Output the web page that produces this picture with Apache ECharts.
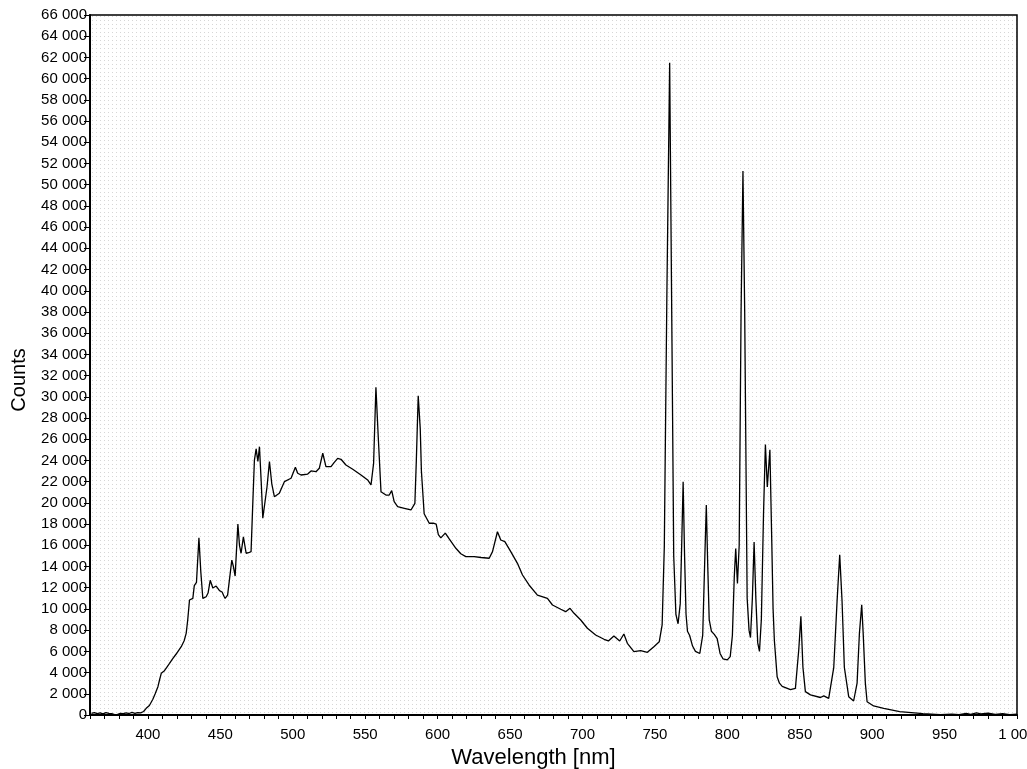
<!DOCTYPE html>
<html>
<head>
    <meta charset="utf-8">
    <title>Spectrum</title>
</head>
<style>
    body {
        margin: 0;
        background: #fff;
    }

    #spectrum {
        width: 1027px;
        height: 769px;
    }
</style>
<body>
<div id="spectrum"></div>

<script type="text/javascript" src="https://cdn.jsdelivr.net/npm/echarts@6.0.0/dist/echarts.min.js"></script>
<script type="text/javascript">

    // wavelength (nm)
    var wavelength = [
        361, 363, 365, 367, 369, 371, 373, 375, 377, 379, 381, 383, 385, 387, 389, 391, 393, 395, 397, 398.8,
        401, 403.4, 405, 406.9, 408, 409.2, 411.4, 413, 414.9, 417, 419.5, 421, 423, 425, 426.4, 427.5, 428.7,
        431, 432, 432.6, 433.5, 435.2, 436.5, 437.9, 440.2, 441.5, 443, 444.8, 447.1, 449.4, 451.2, 452.5, 453.3,
        455, 456.3, 457.9, 459, 460.2, 462.1, 463.2, 464.3, 465.9, 467.8, 469.5, 471.2, 472.4, 473.5, 474.7,
        475.9, 477, 478.2, 479.3, 480.4, 482.2, 483.9, 485.5, 487.3, 490.7, 494.2, 498.8, 501.8, 503.4, 505.7,
        510.3, 512.6, 516, 518.3, 520.7, 522.9, 526.4, 528.5, 531, 533.3, 536.7, 541.4, 547.1, 551.7, 554,
        555.8, 557.4, 559, 560.9, 564.3, 566.6, 568.3, 570, 572.4, 577, 581.6, 584.3, 585.3, 586.6, 588, 588.8,
        590.7, 594.2, 597, 599, 600.5, 602.2, 605.3, 608, 612.6, 616, 619.5, 625.2, 630, 635.6, 637.9, 641.3,
        643.6, 646.4, 650.5, 655.1, 658.6, 663.1, 668.9, 675.8, 679.3, 685, 688.4, 691.4, 694.2, 698.8, 703.4,
        709.1, 714.9, 717.9, 721.7, 725.7, 728.6, 731, 735.5, 740.2, 744.8, 749.3, 753, 755, 756.5, 758.3,
        760.2, 761.8, 763, 764.5, 766, 767.5, 768.5, 769.5, 770.5, 771.5, 772.5, 774, 776, 778, 781, 783,
        784.5, 785.5, 786.5, 787.5, 789, 791, 793, 795, 797, 800, 802, 803.5, 804.8, 805.8, 807, 808.2, 809.5,
        810.8, 812, 813.7, 815, 816, 817.3, 818.5, 819.7, 821, 822.2, 823.5, 825, 826.3, 827.6, 829.4, 830.6,
        831.6, 832.5, 834.4, 836, 837.9, 843.6, 847, 849.3, 850.8, 852.2, 853.9, 857.4, 864.3, 866.6, 870,
        873.5, 875.8, 877.6, 879.2, 880.8, 883.8, 887.2, 889.6, 891.2, 892.8, 893.8, 895.3, 896.5, 901, 908,
        919, 935, 947, 955, 960, 965, 968, 972, 975, 980, 985, 990, 995, 1000
    ];

    // counts
    var counts = [
        150, 220, 130, 200, 110, 230, 150, 120, 40, 60, 150, 120, 200, 140, 250, 160, 230, 200, 330, 630,
        900, 1480, 2000, 2670, 3300, 3930, 4180, 4500, 4870, 5300, 5750, 6050, 6440, 7000, 7700, 9000, 10840,
        11000, 12200, 12160, 12500, 16700, 13500, 11000, 11150, 11500, 12700, 11970, 12160, 11720, 11600, 11200, 11000,
        11300, 11470, 14600, 14000, 13100, 18000, 16000, 15250, 16800, 15250, 15300, 15400, 20000, 24000, 25100,
        23900, 25300, 22000, 18550, 18700, 21500, 23900, 21800, 20580, 20900, 22000, 22320, 23360, 22790, 22630,
        22720, 23010, 22940, 23260, 24680, 23410, 23410, 23800, 24200, 24110, 23570, 23170, 22630, 22160, 21690,
        23730, 30900, 26240, 21050, 20740, 20740, 21150, 20110, 19640, 19490, 19330, 19960, 24000, 30100, 27000, 23000,
        18980, 18080, 18100, 18000, 17000, 16700, 17150, 16600, 15720, 15200, 14930, 14930, 14850, 14780, 15400, 17280,
        16500, 16340, 15400, 14300, 13200, 12260, 11310, 11000, 10370, 9970, 9740, 10060, 9590, 8960, 8180,
        7540, 7140, 6980, 7450, 6980, 7640, 6760, 5970, 6060, 5910, 6440, 6900, 8500, 15870, 40000,
        61500, 35000, 15000, 9500, 8600, 10500, 16000, 22000, 15000, 9500, 7900, 7500, 6500, 6000, 5800, 7500,
        15000, 19800, 14000, 9000, 7900, 7600, 7200, 5800, 5300, 5200, 5500, 7500, 13000, 15700, 12400, 16000, 38000,
        51300, 38000, 11000, 8000, 7300, 11000, 16300, 11000, 6800, 6000, 9000, 19000, 25500, 21500, 25000, 17000,
        10000, 7000, 3600, 3000, 2700, 2400, 2500, 6100, 9300, 4500, 2200, 1900, 1650, 1800, 1570,
        4500, 10800, 15100, 10800, 4500, 1730, 1320, 3000, 7700, 10400, 7700, 3000, 1250, 850, 630,
        310, 120, 40, 80, 30, 150, 60, 200, 100, 180, 60, 120, 40, 90
    ];

    var fontName = '"Liberation Sans", Arial, sans-serif';

    // dotted plot background
    var dot = document.createElement('canvas');
    dot.width = 4;
    dot.height = 4;
    var dotCtx = dot.getContext('2d');
    dotCtx.fillStyle = '#ffffff';
    dotCtx.fillRect(0, 0, 4, 4);
    dotCtx.fillStyle = '#d6d6d6';
    dotCtx.fillRect(0, 0, 1, 1);

    function spaced(v) {
        return String(v).replace(/\B(?=(\d{3})+(?!\d))/g, ' ');
    }

    var seriesData = wavelength.map(function (w, i) {
        return [w, counts[i]];
    });

    var spectrumEcharts = echarts.init(document.getElementById('spectrum'));

    spectrumEcharts.setOption({
        animation: false,
        backgroundColor: '#fff',
        textStyle: {
            fontFamily: fontName
        },
        grid: {
            left: 90,
            right: 10,
            top: 15,
            bottom: 54,
            outerBoundsMode: 'none',
            containLabel: false,
            show: true,
            borderColor: '#000',
            borderWidth: 1.5,
            backgroundColor: {image: dot, repeat: 'repeat'}
        },
        xAxis: {
            type: 'value',
            min: 360,
            max: 1000,
            interval: 10,
            name: 'Wavelength [nm]',
            nameLocation: 'middle',
            nameGap: 28,
            nameTextStyle: {
                fontSize: 22,
                color: '#000',
                fontFamily: fontName,
                padding: [0, 40, 0, 0]
            },
            axisLine: {
                onZero: false,
                lineStyle: {color: '#000', width: 2}
            },
            axisTick: {
                length: 4,
                lineStyle: {color: '#000', width: 1}
            },
            axisLabel: {
                margin: 12,
                fontSize: 15,
                color: '#000',
                fontFamily: fontName,
                formatter: function (v) {
                    return v % 50 === 0 ? spaced(v) : '';
                }
            },
            splitLine: {show: false}
        },
        yAxis: {
            type: 'value',
            min: 0,
            max: 66000,
            interval: 2000,
            name: 'Counts',
            nameLocation: 'middle',
            nameGap: 61,
            nameTextStyle: {
                fontSize: 20,
                color: '#000',
                fontFamily: fontName,
                padding: [0, 30, 0, 0]
            },
            axisLine: {
                show: true,
                lineStyle: {color: '#000', width: 2}
            },
            axisTick: {
                show: true,
                length: 6,
                lineStyle: {color: '#000', width: 1}
            },
            axisLabel: {
                margin: 3,
                fontSize: 15,
                color: '#000',
                fontFamily: fontName,
                formatter: spaced
            },
            splitLine: {show: false}
        },
        series: [{
            type: 'line',
            data: seriesData,
            showSymbol: false,
            symbol: 'none',
            lineStyle: {color: '#000', width: 1.3},
            silent: true
        }]
    });
</script>

</body>
</html>
